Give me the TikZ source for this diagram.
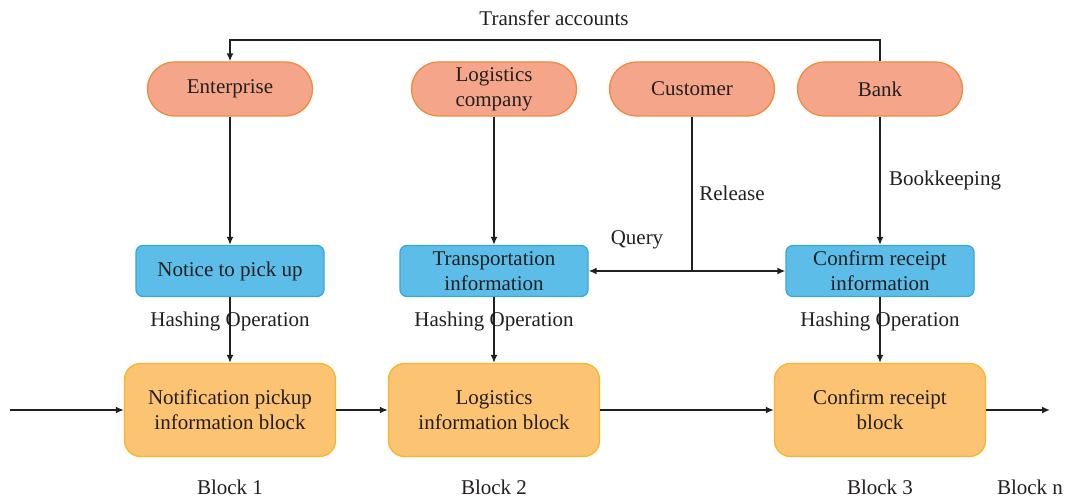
\documentclass[tikz,border=0pt]{standalone}
\usepackage{fontspec}
\setmainfont{Liberation Serif}
\usetikzlibrary{arrows.meta,calc}
\definecolor{pillfill}{HTML}{F5A68A}
\definecolor{pillline}{HTML}{EE8A3E}
\definecolor{infofill}{HTML}{5BBDE8}
\definecolor{infoline}{HTML}{3AA6DC}
\definecolor{blockfill}{HTML}{FCC373}
\definecolor{blockline}{HTML}{F7B52C}
\definecolor{ink}{HTML}{231F20}
\begin{document}
\begin{tikzpicture}[x=1pt,y=-1pt,
    every node/.style={text=ink,font=\fontsize{21}{25}\selectfont,align=center,inner sep=0pt},
    party/.style={draw=pillline,fill=pillfill,line width=1.3pt,minimum width=165pt,minimum height=54pt,rounded corners=27pt},
    infobox/.style={draw=infoline,fill=infofill,line width=1.3pt,minimum width=188pt,minimum height=51pt,rounded corners=7pt},
    chainblock/.style={draw=blockline,fill=blockfill,line width=1.3pt,minimum width=211pt,minimum height=93pt,rounded corners=16pt},
    flow/.style={draw=ink,line width=1.5pt,-{Latex[length=8pt,width=7pt]}},
    wire/.style={draw=ink,line width=1.5pt}]
    \useasboundingbox (0,0) rectangle (1065,500);

    % participants
    \node [party] (enterprise) at (230,89) {Enterprise};
    \node [party] (logistics) at (494,89) {Logistics\\company};
    \node [party] (customer) at (692,89) {Customer};
    \node [party] (bank) at (880,89) {Bank};

    % information
    \node [infobox] (notice) at (230,271) {Notice to pick up};
    \node [infobox] (transport) at (494,271) {Transportation\\information};
    \node [infobox] (confirminfo) at (880,271) {Confirm receipt\\information};

    % blocks
    \node [chainblock] (block1) at (230,410) {Notification pickup\\information block};
    \node [chainblock] (block2) at (494,410) {Logistics\\information block};
    \node [chainblock] (block3) at (880,410) {Confirm receipt\\block};

    % labels
    \node (transfer) at (554,18) {Transfer accounts};
    \node (release) at (732,193) {Release};
    \node (query) at (637,240) {Query};
    \node (bookkeeping) at (945,180) {Bookkeeping};
    \node (hash1) at (230,321) {Hashing Operation};
    \node (hash2) at (494,321) {Hashing Operation};
    \node (hash3) at (880,321) {Hashing Operation};
    \node (lbl1) at (230,487) {Block 1};
    \node (lbl2) at (494,487) {Block 2};
    \node (lbl3) at (880,487) {Block 3};
    \node (lbln) at (1030,487) {Block n};

    \coordinate (topline) at (554,40);
    \coordinate (split) at (692,271);
    \coordinate (chainin) at (10,410);
    \coordinate (chainout) at (1050,410);

    \draw [flow] (bank.north) |- (topline) -| (enterprise.north);
    \draw [flow] (enterprise) -- (notice);
    \draw [flow] (logistics) -- (transport);
    \draw [flow] (bank) -- (confirminfo);
    \draw [wire] (customer.south) -- (split);
    \draw [flow] (split) -- (transport.east);
    \draw [flow] (split) -- (confirminfo.west);
    \draw [flow] (notice) -- (block1);
    \draw [flow] (transport) -- (block2);
    \draw [flow] (confirminfo) -- (block3);
    \draw [flow] (chainin) -- (block1);
    \draw [flow] (block1) -- (block2);
    \draw [flow] (block2) -- (block3);
    \draw [flow] (block3) -- (chainout);
\end{tikzpicture}
\end{document}
